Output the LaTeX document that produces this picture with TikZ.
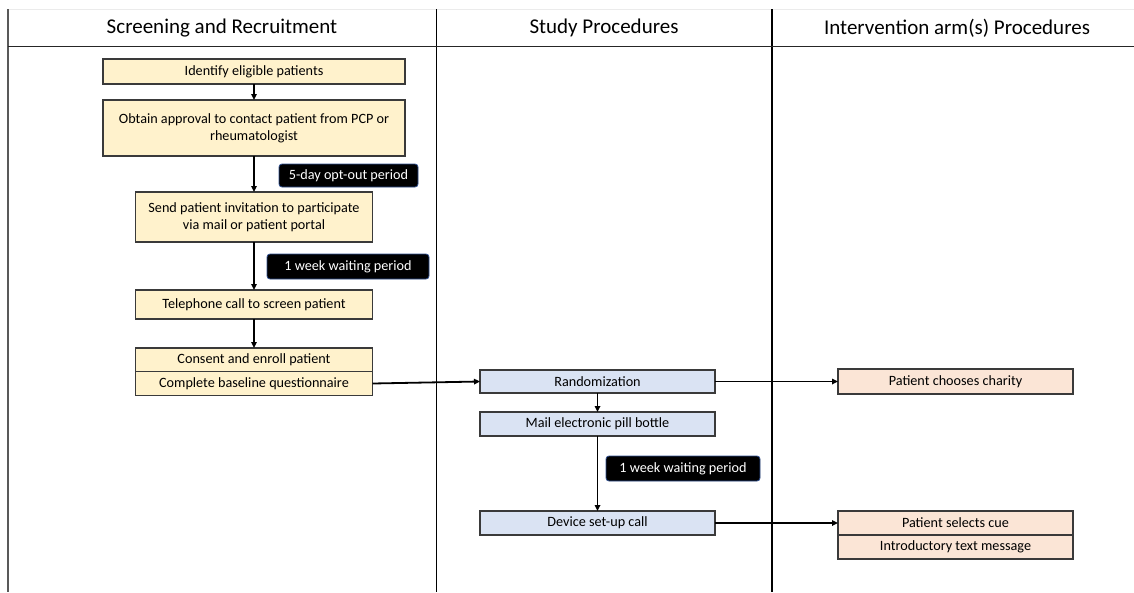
\documentclass[tikz,border=0pt]{standalone}
\usepackage{fontspec}
\setmainfont{Carlito}
\usetikzlibrary{positioning,arrows.meta}
\definecolor{ylw}{HTML}{FFF2CC}
\definecolor{blu}{HTML}{DAE3F3}
\definecolor{pnk}{HTML}{FBE5D6}
\definecolor{edge}{HTML}{3A3A3A}
\definecolor{tagline}{HTML}{2F4F8F}
\begin{document}
\begin{tikzpicture}[x=1pt, y=-1pt, %
        box/.style={draw=edge, line width=1.2pt, outer sep=0pt, inner sep=1pt,
          align=center, font=\fontsize{14.2}{17}\selectfont},
        ybox/.style={box, fill=ylw},
        bbox/.style={box, fill=blu, minimum width=235pt, minimum height=24pt},
        pbox/.style={box, fill=pnk, minimum width=235pt, minimum height=24pt},
        tag/.style={draw=tagline, line width=0.8pt, fill=black, text=white, rounded corners=3pt,
          outer sep=0pt, font=\fontsize{14.2}{17}\selectfont},
        hdr/.style={font=\fontsize{21}{25}\selectfont},
        flow/.style={line width=1.8pt, -{Triangle[length=6pt, width=5.5pt]}}
        ]
        \useasboundingbox (0,0) rectangle (1134,592);
        % lanes
        \draw[black!8, line width=1pt] (8,9) -- (1134,9);
        \draw[black!65, line width=1.5pt] (8,9) -- (8,592);
        \draw[line width=1.2pt] (436.5,9) -- (436.5,592);
        \draw[line width=1.2pt] (772,9) -- (772,592);
        \draw[black!85, line width=1.8pt] (8,46.5) -- (1134,46.5);
        \node[hdr] (h1) at (222,28) {Screening and Recruitment};
        \node[hdr] (h2) at (604,28) {Study Procedures};
        \node[hdr] (h3) at (957,28) {Intervention arm(s) Procedures};

        % screening
        \node[ybox, minimum width=302pt, minimum height=25pt] (ident) at (254,71.5) {Identify eligible patients};
        \node[ybox, minimum width=302pt, minimum height=56pt, below=16pt of ident] (appr)
          {Obtain approval to contact patient from PCP or\\ rheumatologist};
        \node[ybox, minimum width=237pt, minimum height=50pt, below=36pt of appr] (invite)
          {Send patient invitation to participate\\ via mail or patient portal};
        \node[ybox, minimum width=237pt, minimum height=29pt, below=48pt of invite] (phone) {Telephone call to screen patient};
        \node[ybox, minimum width=237pt, minimum height=23.5pt, below=29pt of phone] (cons) {Consent and enroll patient};
        \node[ybox, minimum width=237pt, minimum height=24pt, below=0pt of cons] (base) {Complete baseline questionnaire};
        \node[tag, minimum width=139pt, minimum height=23pt] (optout) at (348.5,175.5) {5-day opt-out period};
        \node[tag, minimum width=162pt, minimum height=25pt] (wait1) at (348,266.5) {1 week waiting period};

        % study
        \node[bbox, minimum height=23pt] (rand) at (597.5,381.5) {Randomization};
        \node[bbox, below=19pt of rand] (mail) {Mail electronic pill bottle};
        \node[bbox, below=75pt of mail] (device) {Device set-up call};
        \node[tag, minimum width=154pt, minimum height=25pt] (wait2) at (683,468.5) {1 week waiting period};

        % intervention
        \node[pbox, minimum height=25pt, right=123pt of rand] (charity) {Patient chooses charity};
        \node[pbox, right=123pt of device] (cue) {Patient selects cue};
        \node[pbox, below=0pt of cue] (intro) {Introductory text message};

        \draw[flow] (ident) -- (appr);
        \draw[flow] (appr) -- (invite);
        \draw[flow] (invite) -- (phone);
        \draw[flow] (phone) -- (cons);
        \draw[flow] (base.east) -- (rand.west);
        \draw[flow] (rand) -- (mail);
        \draw[flow] (mail) -- (device);
        \draw[flow] (rand.east) -- (charity.west);
        \draw[flow] (device.east) -- (cue.west);
      \end{tikzpicture}
\end{document}
